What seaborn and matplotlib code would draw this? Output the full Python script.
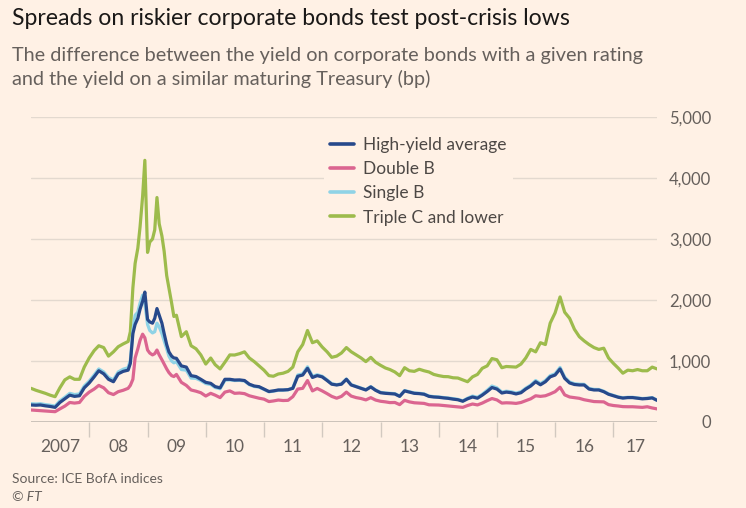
import numpy as np
import pandas as pd
import matplotlib
matplotlib.use('Agg')
import matplotlib.pyplot as plt
import matplotlib.dates as mdates
import matplotlib.ticker as mticker
import seaborn as sns

# ===================== data (bp) =====================
# monthly to Aug 2008, twice a month through the crisis, then monthly to Oct 2017
dates = (list(pd.date_range('2007-01-01', '2008-08-01', freq='MS'))
         + list(pd.date_range('2008-09-01', '2009-06-15', freq='SMS'))
         + list(pd.date_range('2009-07-01', '2017-10-01', freq='MS')))

high_yield = [
    279, 275, 279, 265, 255, 240, 320, 380, 440, 420, 430, 560, 640, 740, 840, 790, 700, 660, 790, 830,
    850, 960, 1450, 1600, 1700, 1850, 1980, 2130, 1680, 1640, 1620, 1700, 1860, 1750, 1620, 1450, 1270, 1150, 1080, 1050,
    1044,
    920, 900, 760, 745, 700, 650, 634, 580, 560,
    700, 700, 688, 690, 680, 620, 590, 579, 540, 500,
    510, 525, 525, 530, 552, 750, 770, 880, 730, 760,
    740, 680, 620, 607, 620, 700, 607, 580, 552, 525,
    575, 520, 480, 470, 465, 459, 420, 510, 490, 470,
    465, 455, 420, 410, 405, 395, 388, 375, 365, 340,
    380, 410, 390, 440, 500, 565, 540, 475, 490, 480,
    460, 480, 540, 590, 660, 610, 660, 740, 770, 870,
    716, 640, 615, 607, 607, 540, 525, 525, 497, 455,
    430, 405, 392, 400, 400, 390, 380, 385, 395, 355,
]

double_b = [
    197, 192, 186, 180, 175, 169, 215, 260, 320, 310, 320, 420, 490, 540, 600, 560, 480, 450, 497, 520,
    552, 600, 700, 1050, 1200, 1340, 1440, 1380, 1180, 1130, 1100, 1120, 1180, 1100, 1020, 950, 870, 810, 760, 745,
    780,
    650, 600, 525, 505, 480, 426, 470, 440, 400,
    490, 510, 470, 475, 465, 430, 410, 390, 375, 335,
    345, 360, 352, 355, 415, 540, 552, 680, 510, 550,
    510, 465, 420, 390, 420, 490, 425, 400, 385, 362,
    399, 360, 340, 330, 318, 320, 285, 355, 330, 315,
    310, 305, 282, 280, 278, 270, 262, 255, 248, 240,
    270, 295, 280, 310, 350, 385, 362, 310, 315, 312,
    305, 320, 350, 380, 430, 420, 430, 460, 497, 570,
    445, 410, 400, 388, 365, 350, 335, 333, 330, 285,
    270, 262, 252, 250, 250, 245, 240, 250, 230, 215,
]

single_b = [
    300, 295, 300, 285, 275, 260, 345, 405, 470, 450, 460, 590, 670, 770, 870, 820, 730, 690, 820, 865,
    890, 1010, 1500, 1750, 1800, 1950, 2080, 1950, 1600, 1500, 1460, 1480, 1620, 1560, 1450, 1330, 1200, 1080, 1000, 970,
    990,
    860, 850, 720, 715, 680, 630, 615, 565, 545,
    685, 690, 680, 682, 672, 612, 582, 572, 535, 495,
    505, 520, 522, 528, 560, 770, 790, 905, 750, 775,
    750, 690, 628, 612, 625, 705, 612, 585, 556, 530,
    580, 525, 486, 476, 470, 465, 426, 516, 496, 476,
    471, 461, 426, 416, 411, 401, 394, 382, 372, 347,
    390, 425, 405, 455, 520, 590, 560, 490, 505, 495,
    475, 495, 555, 605, 680, 628, 680, 760, 790, 895,
    735, 655, 628, 620, 618, 550, 535, 533, 505, 462,
    437, 411, 398, 405, 405, 395, 385, 390, 400, 360,
]

triple_c = [
    552, 520, 497, 470, 440, 415, 560, 690, 740, 700, 700, 900, 1050, 1170, 1250, 1220, 1080, 1150, 1234, 1280,
    1320, 1480, 2200, 2600, 2850, 3200, 3700, 4290, 2780, 2950, 3000, 3150, 3680, 3250, 3050, 2800, 2400, 2200, 1950, 1730,
    1750,
    1400, 1480, 1250, 1200, 1100, 950, 1049, 940, 870,
    980, 1100, 1098, 1120, 1150, 1050, 990, 920, 850, 760,
    750, 787, 800, 830, 900, 1150, 1270, 1500, 1300, 1330,
    1230, 1150, 1060, 1080, 1131, 1220, 1152, 1100, 1050, 990,
    1060, 980, 930, 885, 860, 820, 760, 890, 840, 830,
    865, 840, 820, 780, 760, 745, 743, 725, 721, 690,
    660, 740, 780, 880, 920, 1040, 1020, 890, 910, 905,
    900, 950, 1050, 1190, 1150, 1300, 1270, 1620, 1790, 2050,
    1800, 1700, 1520, 1398, 1330, 1270, 1220, 1190, 1210, 1050,
    960, 880, 800, 850, 840, 860, 840, 840, 900, 870,
]

series_names = ['High-yield average', 'Double B', 'Single B', 'Triple C and lower']
series_values = [high_yield, double_b, single_b, triple_c]
series_colors = ['#27498b', '#db6590', '#8fd3e6', '#9dbb4c']
draw_order = [3, 2, 1, 0]   # blue on top

y_ticks = [0, 1000, 2000, 3000, 4000, 5000]
year_starts = list(range(2008, 2018))
year_labels = ['2007', '08', '09', '10', '11', '12', '13', '14', '15', '16', '17']

title = 'Spreads on riskier corporate bonds test post-crisis lows'
subtitle = ('The difference between the yield on corporate bonds with a given rating\n'
            'and the yield on a similar maturing Treasury (bp)')
source = 'Source: ICE BofA indices'

# ===================== style =====================
bg = '#fff1e5'
grey_text = '#66605c'
sns.set_style('white')
plt.rcParams['font.family'] = ['Lato', 'DejaVu Sans']

fig = plt.figure(figsize=(7.46, 5.08), dpi=100, facecolor=bg)
ax = fig.add_axes([31 / 746, 86 / 508, 626 / 746, 305 / 508], facecolor=bg)

rows = []
for name, vals in zip(series_names, series_values):
    rows.append(pd.DataFrame({'date': dates, 'bp': vals, 'series': name}))
df = pd.concat(rows, ignore_index=True)

for i in draw_order:
    name = series_names[i]
    sns.lineplot(data=df[df['series'] == name], x='date', y='bp',
                 color=series_colors[i], linewidth=2.3, ax=ax, label=name,
                 zorder=3 + (3 - i))
h, l = ax.get_legend_handles_labels()
lookup = dict(zip(l, h))

# grid
for v in y_ticks[1:]:
    ax.axhline(v, color='#e3d9cf', linewidth=1, zorder=1)
ax.axhline(0, color='#bdb5ad', linewidth=1.1, zorder=2)

x0, x1 = dates[0], dates[-1]
ax.set_xlim(x0, x1)
ax.set_ylim(0, 5000)
for s in ax.spines.values():
    s.set_visible(False)

# y axis on the right
ax.yaxis.tick_right()
ax.set_yticks(y_ticks)
ax.yaxis.set_major_formatter(mticker.FuncFormatter(lambda v, p: f'{int(v):,}'))
ax.tick_params(axis='y', right=True, length=0, pad=39, labelsize=12, labelcolor=grey_text)
for t in ax.get_yticklabels():
    t.set_horizontalalignment('right')

# x axis: year separators, labels centred in each (visible) year
sep = [pd.Timestamp(f'{y}-01-01') for y in year_starts]
edges = [x0] + sep + [x1]
centres = [mdates.date2num(a) + (mdates.date2num(b) - mdates.date2num(a)) / 2
           for a, b in zip(edges[:-1], edges[1:])]
ax.xaxis.set_minor_locator(mticker.FixedLocator([mdates.date2num(d) for d in sep]))
ax.xaxis.set_major_locator(mticker.FixedLocator(centres))
ax.xaxis.set_major_formatter(mticker.FixedFormatter(year_labels))
ax.tick_params(axis='x', which='major', bottom=True, length=0, pad=12, labelsize=12.5,
               labelcolor=grey_text)
ax.tick_params(axis='x', which='minor', bottom=True, length=11, width=1, color='#d2c9c0',
               direction='out')
ax.set_xlabel('')
ax.set_ylabel('')

leg = ax.legend([lookup[n] for n in series_names], series_names,
                loc='upper left', bbox_to_anchor=(324 / 746, 1 - 131 / 508),
                bbox_transform=fig.transFigure, frameon=True, facecolor=bg,
                edgecolor='none', framealpha=1, fontsize=12.5, handlelength=1.35,
                handletextpad=0.55, labelspacing=0.47, borderpad=0.35,
                borderaxespad=0)
for t in leg.get_texts():
    t.set_color('#4d4845')
for ln in leg.get_lines():
    ln.set_linewidth(2.6)

fig.text(12 / 746, 1 - 25 / 508, title, fontsize=16.6, color='#1a1817', va='baseline')
fig.text(12 / 746, 1 - 85 / 508, subtitle, fontsize=14.3, color=grey_text, va='baseline',
         linespacing=1.4)
fig.text(12 / 746, 1 - 483 / 508, source, fontsize=10, color=grey_text, va='baseline')
fig.text(12 / 746, 1 - 501 / 508, '© FT', fontsize=10, color=grey_text, va='baseline',
         style='italic')

fig.savefig('out.png', dpi=100, facecolor=bg)
